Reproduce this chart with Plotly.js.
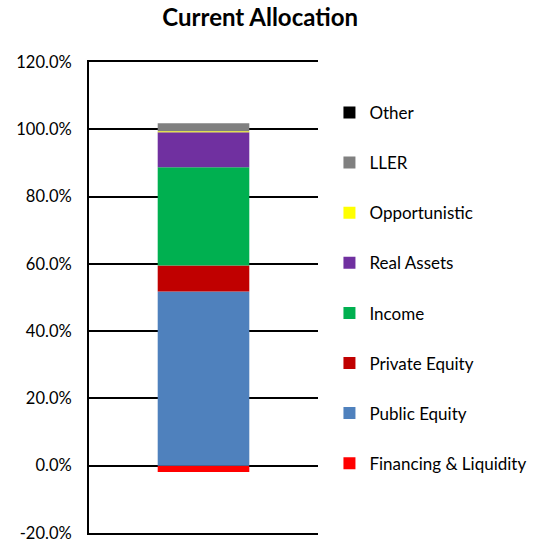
<!DOCTYPE html>
<html><head><meta charset="utf-8">
<script src="https://cdn.plot.ly/plotly-3.0.1.min.js"></script>
<style>body{margin:0;padding:0;background:#fff}#chart{width:542px;height:542px}</style>
</head><body><div id="chart"></div>
<script>
const category = ["Current Allocation"];
const seriesNames = ["Financing & Liquidity","Public Equity","Private Equity","Income","Real Assets","Opportunistic","LLER","Other"];
const seriesValues = [-1.9, 51.8, 7.7, 29.2, 10.4, 0.3, 2.4, 0.0];
const seriesColors = ["#FF0000","#4F81BD","#C00000","#00B050","#7030A0","#FFFF00","#808080","#000000"];
const yTicks = [-20,0,20,40,60,80,100,120];

const traces = seriesNames.map((n,i)=>({
  type:'bar', name:n, x:category, y:[seriesValues[i]],
  marker:{color:seriesColors[i], line:{width:0}},
  width:0.4, legendgroup:'g'+i, legendrank:100-i, hoverinfo:'name+y'
}));

const F = 'Lato, "Open Sans", sans-serif';
const layout = {
  width:542, height:542,
  margin:{l:89, r:224, t:62, b:9},
  paper_bgcolor:'#fff', plot_bgcolor:'#fff',
  barmode:'relative',
  font:{family:F, size:16, color:'#000'},
  title:{text:'<b>Current Allocation</b>', x:0.48, xref:'container', y:0.967, yref:'container', yanchor:'middle', font:{size:24, family:F}},
  xaxis:{showticklabels:false, showgrid:false, zeroline:false, showline:true, mirror:true, linecolor:'#000', linewidth:2, range:[-0.5,0.5], fixedrange:true},
  yaxis:{range:[-20,120], tickvals:yTicks, ticktext:yTicks.map(v=>v.toFixed(1)+'%'),
    showgrid:true, gridcolor:'#000', gridwidth:2, zeroline:true, zerolinecolor:'#000', zerolinewidth:2,
    showline:true, linecolor:'#000', linewidth:2, ticks:'', ticklabelstandoff:12, ticklabeloverflow:'allow', tickfont:{size:16.5}},
  legend:{x:1.05, xanchor:'left', y:0.930, yanchor:'top', traceorder:'grouped', tracegroupgap:25,
    font:{size:17}, bgcolor:'rgba(0,0,0,0)'},
  showlegend:true
};
Plotly.newPlot('chart', traces, layout, {displayModeBar:false, staticPlot:true});
</script></body></html>
